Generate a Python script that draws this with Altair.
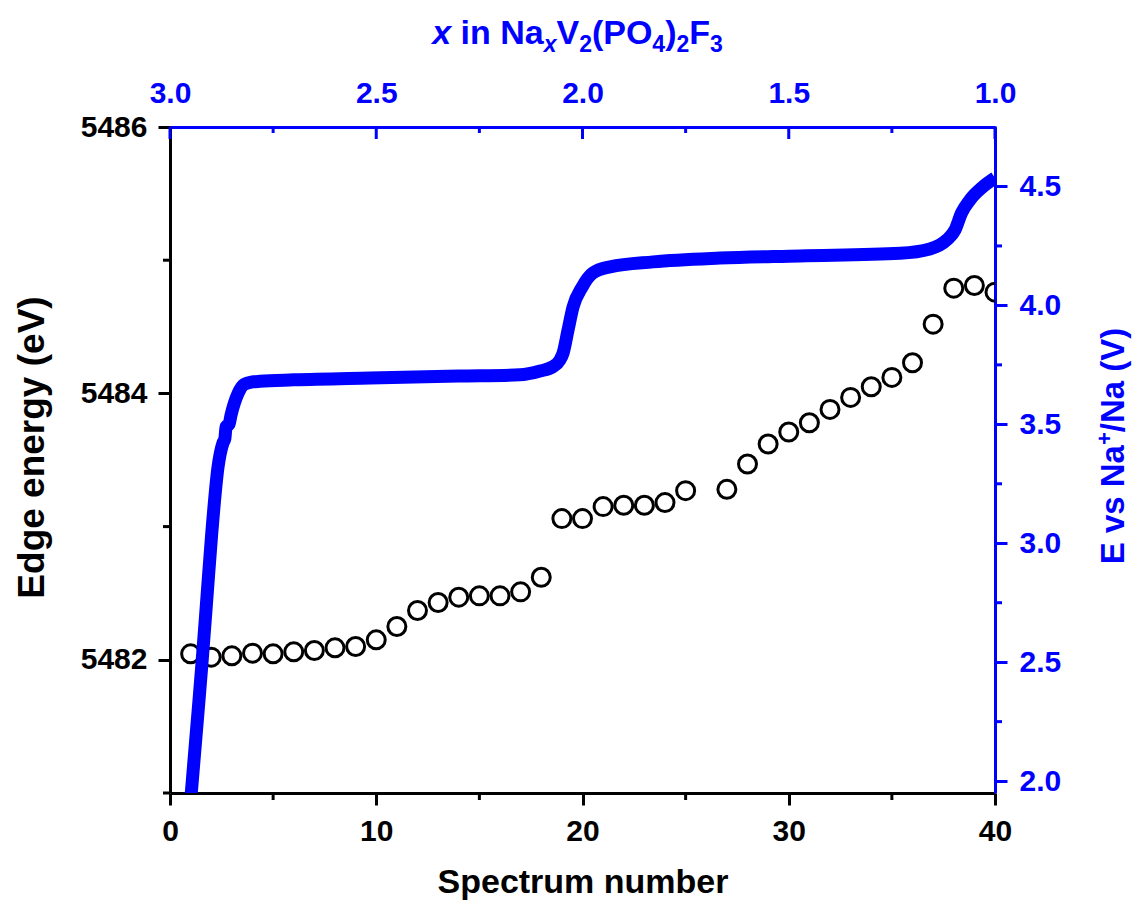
import altair as alt
import pandas as pd

# ---------------- data ----------------
spectrum = list(range(1, 26)) + list(range(27, 41))
edge_energy = [5482.045, 5482.02, 5482.03, 5482.05, 5482.045, 5482.06, 5482.07, 5482.09,
               5482.10, 5482.15, 5482.25, 5482.37, 5482.43, 5482.47, 5482.48, 5482.48,
               5482.51, 5482.62, 5483.06, 5483.06, 5483.15, 5483.16, 5483.16, 5483.18,
               5483.27, 5483.28, 5483.47, 5483.62, 5483.71, 5483.78, 5483.88, 5483.97,
               5484.05, 5484.12, 5484.23, 5484.52, 5484.79, 5484.81, 5484.76]

na_content = [2.9498, 2.9297, 2.9232, 2.911, 2.8989, 2.8836, 2.8715, 2.867, 2.864, 2.857,
              2.852, 2.835, 2.820, 2.800, 2.782, 2.700, 2.515, 2.300, 2.152, 2.103,
              2.072, 2.055, 2.047, 2.035, 2.023, 2.001, 1.975, 1.933, 1.829, 1.667,
              1.473, 1.230, 1.158, 1.117, 1.097, 1.081, 1.061, 1.029, 1.000]
voltage = [1.921, 2.34, 2.48, 2.76, 3.04, 3.32, 3.422, 3.44, 3.49, 3.50,
           3.539, 3.63, 3.668, 3.678, 3.681, 3.687, 3.695, 3.703, 3.708, 3.724,
           3.742, 3.77, 3.80, 3.897, 3.993, 4.077, 4.136, 4.162, 4.183, 4.199,
           4.208, 4.219, 4.237, 4.275, 4.317, 4.389, 4.443, 4.499, 4.536]

bottom_major = [0, 10, 20, 30, 40]
bottom_minor = [5, 15, 25, 35]
left_major = [5482, 5484, 5486]
left_minor = [5481, 5483, 5485]
top_major = [3.0, 2.5, 2.0, 1.5, 1.0]
top_minor = [2.75, 2.25, 1.75, 1.25]
right_major = [2.0, 2.5, 3.0, 3.5, 4.0, 4.5]
right_minor = [2.25, 2.75, 3.25, 3.75, 4.25]

# ---------------- style ----------------
FONT = "Liberation Sans"
BLUE = "#0000FF"
W, H = 825, 666
TICK_F = 30

df_pts = pd.DataFrame({"spectrum": spectrum, "edge": edge_energy})
df_curve = pd.DataFrame({"idx": list(range(len(na_content))), "na": na_content, "v": voltage})
one = pd.DataFrame({"a": [0]})


def sx():
    return alt.Scale(domain=[0, 40], nice=False, zero=False)


def sy():
    return alt.Scale(domain=[5481, 5486], nice=False, zero=False)


def stx():
    return alt.Scale(domain=[3.0, 1.0], nice=False, zero=False)


def sv():
    return alt.Scale(domain=[1.95, 4.75], nice=False, zero=False)


common = dict(labelFont=FONT, labelFontSize=TICK_F, labelFontWeight="bold",
              titleFont=FONT, titleFontWeight="bold", grid=False,
              labelFlush=False, labelOverlap=False, domainWidth=3, tickWidth=3)

ax_bottom = alt.Axis(orient="bottom", values=bottom_major, format="d", domainColor="black",
                     tickColor="black", tickSize=12, labelColor="black", labelPadding=11,
                     title="Spectrum number", titleFontSize=34, titleColor="black",
                     titleY=99, titleBaseline="alphabetic", **common)
ax_left = alt.Axis(orient="left", values=left_major, format="d", domainColor="black",
                   tickColor="black", tickSize=12, labelColor="black", labelPadding=11,
                   title="Edge energy (eV)", titleFontSize=37, titleColor="black",
                   titleX=-127, titleY=320, titleAngle=270, titleBaseline="alphabetic",
                   titleAlign="center", **common)
ax_top = alt.Axis(orient="top", values=top_major, format=".1f", domainColor=BLUE,
                  tickColor=BLUE, tickSize=1, labelColor=BLUE, labelPadding=18,
                  title="", **common)
ax_right = alt.Axis(orient="right", values=right_major, format=".1f", domainColor=BLUE,
                    tickColor=BLUE, tickSize=12, labelColor=BLUE, labelPadding=12,
                    title="", **common)

# ---------------- marks ----------------
circles = alt.Chart(df_pts).mark_point(
    shape="circle", filled=False, size=324, strokeWidth=3, color="black", opacity=1, clip=True
).encode(
    x=alt.X("spectrum:Q", scale=sx(), axis=ax_bottom),
    y=alt.Y("edge:Q", scale=sy(), axis=ax_left),
)
line = alt.Chart(df_curve).mark_line(
    color=BLUE, strokeWidth=13, clip=True, strokeJoin="round", interpolate="monotone"
).encode(
    x=alt.X("na:Q", scale=stx(), axis=ax_top),
    y=alt.Y("v:Q", scale=sv(), axis=ax_right),
    order="idx:Q",
)

minor_bottom = alt.Chart(pd.DataFrame({"t": bottom_minor})).mark_rule(
    color="black", strokeWidth=3
).encode(x=alt.X("t:Q", scale=sx(), axis=None), y=alt.value(H), y2=alt.value(H + 7))
minor_left = alt.Chart(pd.DataFrame({"t": left_minor})).mark_rule(
    color="black", strokeWidth=3
).encode(y=alt.Y("t:Q", scale=sy(), axis=None), x=alt.value(-7), x2=alt.value(0))
top_major_ticks = alt.Chart(pd.DataFrame({"t": top_major})).mark_rule(
    color=BLUE, strokeWidth=3
).encode(x=alt.X("t:Q", scale=stx(), axis=None), y=alt.value(0), y2=alt.value(12))
top_minor_ticks = alt.Chart(pd.DataFrame({"t": top_minor})).mark_rule(
    color=BLUE, strokeWidth=3
).encode(x=alt.X("t:Q", scale=stx(), axis=None), y=alt.value(0), y2=alt.value(6))
right_minor_ticks = alt.Chart(pd.DataFrame({"t": right_minor})).mark_rule(
    color=BLUE, strokeWidth=3
).encode(y=alt.Y("t:Q", scale=sv(), axis=None), x=alt.value(W), x2=alt.value(W + 7))

# text segments (Arial/Liberation Sans Bold advance widths, per 1000 em)
ADV = {" ": 278, "x": 556, "i": 278, "n": 611, "N": 722, "a": 556, "V": 667,
       "(": 333, "P": 667, "O": 778, ")": 333, "F": 611, "2": 556, "3": 556, "4": 556,
       "E": 667, "v": 556, "s": 556, "+": 584, "/": 278}


def width(txt, size):
    return sum(ADV[c] for c in txt) * size / 1000.0


def seg(txt, x, y, size, italic=False, angle=0):
    return alt.Chart(one).mark_text(
        text=txt, font=FONT, fontSize=size, fontWeight="bold",
        fontStyle="italic" if italic else "normal", color=BLUE,
        align="left", baseline="alphabetic", angle=angle
    ).encode(x=alt.value(x), y=alt.value(y))


# top title: x in NaxV2(PO4)2F3  (segments: text, size, italic, baseline shift, gap before)
FT, ST = 34, 23
top_parts = [("x", FT, True, 0, 0), ("in Na", FT, False, 0, 278), ("x", ST, True, 8, 0),
             ("V", FT, False, 0, 0), ("2", ST, False, 8, 0), ("(PO", FT, False, 0, 0),
             ("4", ST, False, 8, 0), (")", FT, False, 0, 0), ("2", ST, False, 8, 0),
             ("F", FT, False, 0, 0), ("3", ST, False, 8, 0)]
total = sum(width(t, s) + g * s / 1000.0 for t, s, _, _, g in top_parts)
cx = 407.5 - total / 2
base_y = -83
top_title = []
for t, s, it, off, g in top_parts:
    cx += g * s / 1000.0
    top_title.append(seg(t, cx, base_y + off, s, italic=it))
    cx += width(t, s)

# right title: E vs Na+/Na (V), rotated
FR, SR = 33, 22
right_parts = [("E vs Na", FR, 0), ("+", SR, -12), ("/Na (V)", FR, 0)]
rtotal = sum(width(t, s) for t, s, _ in right_parts)
cy = 319 + rtotal / 2
base_x = W + 129
right_title = []
for t, s, off in right_parts:
    right_title.append(seg(t, base_x + off, cy, s, angle=270))
    cy -= width(t, s)

chart = alt.layer(
    circles, line, minor_bottom, minor_left, top_major_ticks, top_minor_ticks,
    right_minor_ticks, *top_title, *right_title
).resolve_scale(
    x="independent", y="independent"
).properties(
    width=W, height=H,
    padding={"left": 170, "top": 127, "right": 139, "bottom": 107},
    autosize=alt.AutoSizeParams(type="none"),
).configure_view(stroke=None)

chart.save("out.html", embed_options={"renderer": "svg", "actions": False})
